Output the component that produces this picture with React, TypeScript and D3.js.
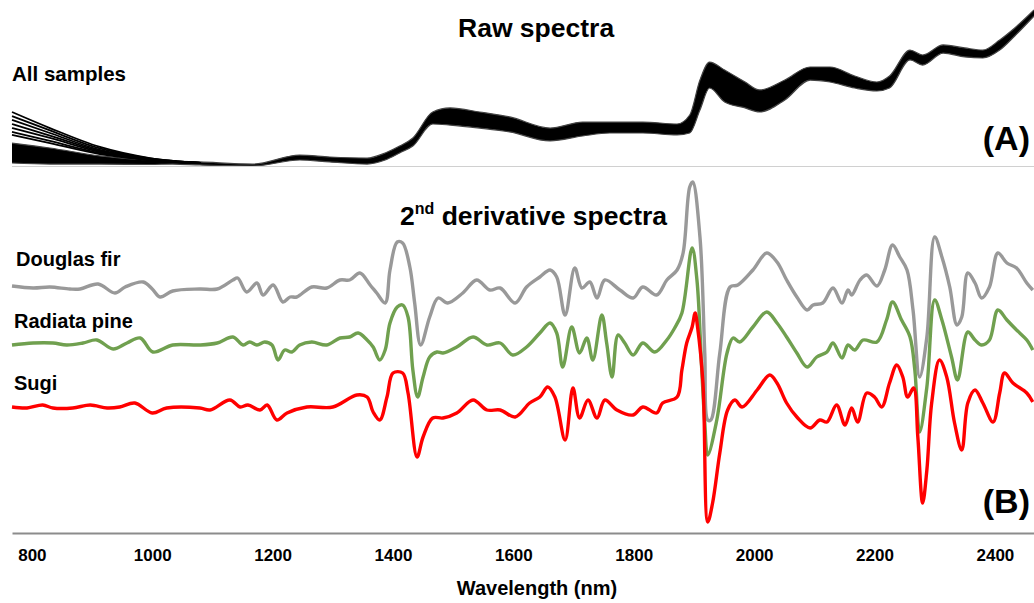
import * as d3 from "d3";
import React, { useEffect, useRef } from "react";

// wavelength axis
const xTicks = [800, 1000, 1200, 1400, 1600, 1800, 2000, 2200, 2400];

// raw spectra: envelope of all samples (absorbance, a.u.)
const rawWl = [767, 830, 913, 996, 1034, 1079, 1167, 1245, 1295, 1357, 1387, 1411, 1433, 1466, 1495, 1544, 1594, 1661, 1715, 1760, 1815, 1872, 1893, 1910, 1926, 1951, 1985, 2009, 2051, 2093, 2126, 2167, 2204, 2225, 2259, 2280, 2314, 2350, 2380, 2408, 2433, 2465];
const rawUpper = [0.153, 0.12, 0.067, 0.04, 0.033, 0.027, 0.013, 0.073, 0.06, 0.053, 0.087, 0.133, 0.187, 0.36, 0.387, 0.36, 0.327, 0.253, 0.293, 0.293, 0.293, 0.28, 0.34, 0.573, 0.693, 0.64, 0.56, 0.507, 0.573, 0.66, 0.66, 0.6, 0.56, 0.6, 0.773, 0.74, 0.807, 0.787, 0.773, 0.84, 0.92, 1.04];
const rawLower = [0.02, 0.013, 0.013, 0.01, 0.013, 0.007, 0, 0.04, 0.027, 0.013, 0.04, 0.087, 0.133, 0.28, 0.273, 0.253, 0.227, 0.167, 0.2, 0.22, 0.22, 0.207, 0.22, 0.373, 0.52, 0.427, 0.387, 0.36, 0.44, 0.573, 0.56, 0.52, 0.5, 0.52, 0.707, 0.673, 0.753, 0.727, 0.72, 0.773, 0.867, 1.0];
// samples with high baseline at the short-wavelength end
const fanWl = [767, 830, 913, 996, 1080];
const fanSamples = [
  [0.36, 0.253, 0.127, 0.053, 0.02],
  [0.333, 0.237, 0.117, 0.05, 0.02],
  [0.307, 0.22, 0.107, 0.047, 0.02],
  [0.28, 0.203, 0.1, 0.043, 0.02],
  [0.253, 0.187, 0.093, 0.04, 0.02],
  [0.227, 0.167, 0.087, 0.04, 0.02],
  [0.207, 0.153, 0.08, 0.04, 0.02],
];

// 2nd derivative spectra (a.u.)
const douglasWl = [767, 802, 830, 863, 880, 910, 938, 955, 985, 1000, 1013, 1034, 1079, 1108, 1134, 1142, 1157, 1174, 1184, 1201, 1217, 1229, 1240, 1265, 1290, 1312, 1328, 1345, 1362, 1373, 1387, 1395, 1407, 1416, 1428, 1436, 1446, 1461, 1475, 1491, 1516, 1539, 1561, 1578, 1603, 1622, 1644, 1661, 1672, 1686, 1702, 1714, 1727, 1739, 1752, 1777, 1799, 1815, 1838, 1855, 1872, 1882, 1893, 1898, 1910, 1918, 1923, 1928, 1943, 1960, 1973, 1998, 2021, 2038, 2054, 2071, 2088, 2098, 2114, 2131, 2146, 2156, 2162, 2176, 2187, 2204, 2217, 2230, 2242, 2254, 2264, 2275, 2287, 2300, 2312, 2325, 2337, 2345, 2355, 2367, 2378, 2391, 2405, 2420, 2436, 2453, 2463];
const douglasVal = [0.2, 0, 0.1, -0.1, -0.1, 0.4, -0.5, 0.1, 0.6, -0.1, -0.9, -0.3, -0.1, -0.1, 0.8, 1.0, -0.4, 0.5, -0.7, 0.3, -1.4, -0.9, -0.9, 0.1, 0, 0.8, 0.8, 1.5, 0.3, -0.5, -1.5, 1.8, 4.6, 4.5, 2.1, -1.5, -5.7, -2.9, -1.0, -1.5, -0.5, 0.8, -0.2, 0, -1.5, 0.1, 1.1, 1.8, 1.1, -2.7, 2.0, 0, 0.6, -1.0, 0.8, -0.2, -1.0, 0.1, -0.7, 0.8, 1.8, 3.5, 10.1, 10.6, 5.1, -6.5, -13.2, -13.2, -6.5, 0.1, 0.3, 1.8, 3.5, 2.6, 0.8, -0.9, -2.2, -1.7, -1.5, 0, -1.5, -0.2, -0.7, 0.8, 1.3, 0.2, 1.8, 4.3, 3.1, 1.8, -2.2, -8.9, -4.9, 5.1, 3.1, 0.1, -3.7, -2.9, 1.5, 0.5, -1.0, 0.1, 3.5, 2.5, 2.0, 0.5, -0.2];

const radiataWl = [767, 802, 835, 858, 885, 908, 935, 958, 980, 1001, 1034, 1079, 1108, 1134, 1151, 1162, 1174, 1187, 1199, 1209, 1220, 1232, 1245, 1265, 1290, 1312, 1328, 1342, 1357, 1367, 1378, 1387, 1395, 1407, 1416, 1425, 1433, 1441, 1450, 1461, 1473, 1483, 1506, 1533, 1556, 1578, 1599, 1622, 1644, 1661, 1672, 1682, 1697, 1710, 1722, 1732, 1747, 1755, 1764, 1774, 1785, 1799, 1815, 1835, 1855, 1868, 1880, 1897, 1905, 1913, 1918, 1923, 1938, 1955, 1965, 1976, 1998, 2021, 2038, 2054, 2071, 2088, 2104, 2121, 2131, 2146, 2156, 2167, 2181, 2204, 2220, 2230, 2245, 2259, 2267, 2275, 2287, 2300, 2312, 2328, 2338, 2355, 2367, 2378, 2391, 2405, 2420, 2436, 2453, 2463];
const radiataVal = [0, 0.2, 0.2, 0, 0.2, 0.5, -0.4, 0.2, 0.7, -0.7, 0, 0, 0.2, 0.8, 0, 0.3, 0, 0.3, 0, -1.5, -0.5, -0.7, 0, 0.3, 0, 0.7, 0.8, 1.2, 0.5, -0.2, -1.5, -0.5, 2.2, 3.8, 4.0, 2.8, -2.5, -5.2, -3.2, -1.2, -0.7, -0.8, -0.2, 0.8, 0, 0.2, -1.0, -0.2, 1.2, 2.2, 1.2, -2.2, 1.8, -0.8, 0.7, -1.5, 3.0, 0.2, -3.2, 1.0, 0.2, -1.0, 0.2, -0.7, 0.5, 1.7, 3.2, 9.7, 6.5, -2.5, -7.8, -11.0, -7.5, -0.8, 0.7, 0.3, 1.8, 3.3, 2.2, 0.8, -0.8, -2.2, -1.2, -0.7, 0.2, -1.3, 0, -0.5, 0.5, 0.3, 2.5, 4.3, 2.5, 0.8, -2.5, -8.7, -4.2, 4.5, 2.5, -1.2, -3.5, 1.3, 0.5, 0, 0.5, 3.5, 2.5, 1.5, 0.5, -0.5];

const sugiWl = [767, 792, 818, 835, 868, 897, 925, 946, 971, 1000, 1024, 1079, 1096, 1129, 1146, 1159, 1179, 1191, 1207, 1224, 1257, 1300, 1340, 1357, 1367, 1378, 1390, 1400, 1416, 1425, 1440, 1450, 1466, 1483, 1506, 1533, 1556, 1578, 1603, 1627, 1644, 1657, 1669, 1686, 1699, 1710, 1724, 1739, 1752, 1772, 1799, 1815, 1838, 1848, 1872, 1880, 1888, 1897, 1902, 1906, 1915, 1923, 1931, 1943, 1956, 1968, 1980, 2005, 2026, 2038, 2054, 2071, 2093, 2109, 2121, 2137, 2151, 2162, 2172, 2187, 2200, 2212, 2225, 2237, 2247, 2255, 2265, 2272, 2280, 2287, 2295, 2308, 2320, 2333, 2345, 2355, 2367, 2380, 2397, 2408, 2416, 2430, 2453, 2463];
const sugiVal = [0.1, 0, 0.3, 0, 0, 0.3, 0, 0.1, 0.5, -0.5, 0, 0, -0.2, 0.8, 0.1, 0.3, -0.2, 0.3, -1.2, -0.5, 0.1, 0.1, 1.3, 1.1, -0.4, -1.2, 1.1, 3.5, 3.5, 1.5, -4.9, -2.9, -1.0, -1.0, -0.5, 0.8, -0.2, -0.2, -0.9, 0.5, 1.1, 2.1, 1.1, -3.2, 2.0, -1.0, 0.8, -1.0, 0.8, -0.2, -0.7, 0.1, -0.5, 0.5, 1.1, 3.8, 6.5, 8.1, 9.5, 8.1, 2.5, -11.4, -9.5, -4.5, -0.2, 0.8, 0.1, 1.8, 3.3, 2.5, 0.5, -0.9, -2.0, -1.2, -1.4, 0.3, -1.7, 0, -1.4, 1.5, 1.1, 0.1, 2.5, 4.3, 3.1, 1.1, 2.0, -2.9, -9.5, -6.2, 0.5, 4.8, 3.1, -1.5, -4.2, 0.5, 1.8, 0.5, -1.4, 1.5, 3.5, 2.5, 1.5, 0.6];

const groups = [
  { name: "Douglas fir", wl: douglasWl, val: douglasVal, offset: 12.5, color: "#999999", labelY: 266 },
  { name: "Radiata pine", wl: radiataWl, val: radiataVal, offset: 6.8, color: "#70A04F", labelY: 328 },
  { name: "Sugi", wl: sugiWl, val: sugiVal, offset: 0.5, color: "#FF0000", labelY: 390 },
];

const App = () => {
  const svgRef = useRef(null);
  useEffect(() => {
    const width = 1034;
    const height = 603;
    const font = "'Liberation Sans', Arial, sans-serif";
    const svg = d3.select(svgRef.current).attr("width", width).attr("height", height);
    svg.selectAll("*").remove();

    const x = d3.scaleLinear().domain([767, 2465]).range([12, 1034]);
    const yA = d3.scaleLinear().domain([0, 1]).range([166, 16]);
    const yB = d3.scaleLinear().domain([-12, 24]).range([533, 173]);

    // panel A
    const band = d3
      .area()
      .x((d) => x(d[0]))
      .y0((d) => yA(d[2]))
      .y1((d) => yA(d[1]))
      .curve(d3.curveMonotoneX);
    const rawRows = rawWl.map((w, i) => [w, rawUpper[i], rawLower[i]]);
    svg.append("path").attr("d", band(rawRows)).attr("fill", "#000");
    const rawLine = d3
      .line()
      .x((d) => x(d[0]))
      .y((d) => yA(d[1]))
      .curve(d3.curveMonotoneX);
    [rawUpper, rawLower].forEach((arr) => {
      svg
        .append("path")
        .attr("d", rawLine(rawWl.map((w, i) => [w, arr[i]])))
        .attr("fill", "none")
        .attr("stroke", "#444")
        .attr("stroke-width", 1.2);
    });
    fanSamples.forEach((s) => {
      svg
        .append("path")
        .attr("d", rawLine(fanWl.map((w, i) => [w, s[i]])))
        .attr("fill", "none")
        .attr("stroke", "#000")
        .attr("stroke-width", 1.8);
    });

    // top axis line
    svg
      .append("line")
      .attr("x1", 12)
      .attr("x2", 1034)
      .attr("y1", 166.5)
      .attr("y2", 166.5)
      .attr("stroke", "#d0d0d0")
      .attr("stroke-width", 1);

    // panel B
    const dLine = d3
      .line()
      .x((d) => x(d[0]))
      .y((d) => yB(d[1]))
      .curve(d3.curveCatmullRom.alpha(0.5));
    groups.forEach((g) => {
      svg
        .append("path")
        .attr("d", dLine(g.wl.map((w, i) => [w, g.val[i] + g.offset])))
        .attr("fill", "none")
        .attr("stroke", g.color)
        .attr("stroke-width", 3.4)
        .attr("stroke-linejoin", "round");
      svg
        .append("text")
        .attr("x", g.name === "Douglas fir" ? 16 : 14)
        .attr("y", g.labelY)
        .attr("font-family", font)
        .attr("font-weight", "bold")
        .attr("font-size", 20)
        .text(g.name);
    });

    const xAxis = d3
      .axisBottom(x)
      .tickValues(xTicks)
      .tickSize(0)
      .tickSizeOuter(0)
      .tickPadding(16)
      .tickFormat(d3.format("d"));
    const ax = svg.append("g").attr("transform", "translate(0,533)").call(xAxis);
    ax.select(".domain").attr("stroke", "#8c8c8c").attr("stroke-width", 2);
    ax.selectAll("text")
      .attr("font-family", font)
      .attr("font-weight", "bold")
      .attr("font-size", 17)
      .attr("fill", "#000");

    // titles
    const bold = (sel, size) =>
      sel.attr("font-family", font).attr("font-weight", "bold").attr("font-size", size).attr("fill", "#000");
    bold(svg.append("text").attr("x", 458).attr("y", 37).text("Raw spectra"), 26.5);
    bold(svg.append("text").attr("x", 12).attr("y", 81).text("All samples"), 20.5);
    bold(svg.append("text").attr("x", 1030).attr("y", 150).attr("text-anchor", "end").text("(A)"), 34);
    bold(svg.append("text").attr("x", 1030).attr("y", 513).attr("text-anchor", "end").text("(B)"), 34);
    bold(svg.append("text").attr("x", 537).attr("y", 595).attr("text-anchor", "middle").text("Wavelength (nm)"), 20);
    const t2 = bold(svg.append("text").attr("x", 400).attr("y", 225), 26.5);
    t2.append("tspan").text("2");
    t2.append("tspan").attr("font-size", 16).attr("dy", -11).text("nd");
    t2.append("tspan").attr("dy", 11).text(" derivative spectra");
  }, []);

  return <svg ref={svgRef} style={{ position: "absolute", left: 0, top: 0, background: "#fff" }}></svg>;
};

export default App;
